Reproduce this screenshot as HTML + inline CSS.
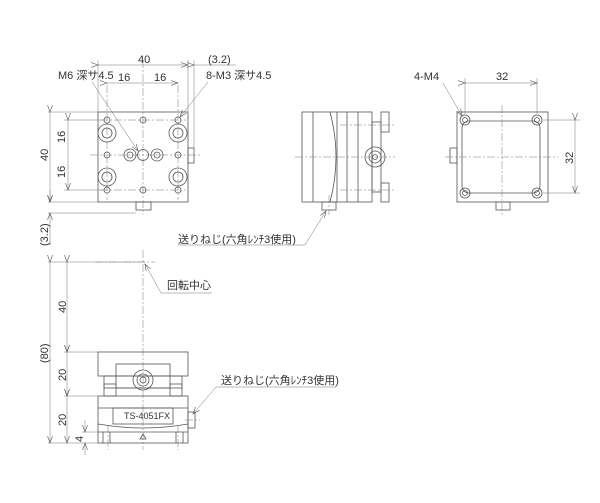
<!DOCTYPE html>
<html><head><meta charset="utf-8"><style>
html,body{margin:0;padding:0;background:#fff;}
svg{display:block;}
text{font-family:"Liberation Sans","Noto Sans CJK JP",sans-serif;fill:#333;font-size:11px;}
.l{stroke:#555;stroke-width:0.8;fill:none;}
.t{stroke:#777;stroke-width:0.5;fill:none;}
.c{stroke:#777;stroke-width:0.5;fill:none;stroke-dasharray:8 2 2 2;}
</style></head><body>
<svg width="600" height="503" viewBox="0 0 600 503" xmlns="http://www.w3.org/2000/svg">
<defs><marker id="a" markerWidth="8" markerHeight="6" refX="7" refY="3" orient="auto" markerUnits="userSpaceOnUse"><path d="M0,0.5 L7,3 L0,5.5" fill="none" stroke="#555" stroke-width="0.6"/></marker></defs>

<!-- TOP VIEW -->
<rect class="l" x="98" y="112" width="90" height="90"/>
<rect class="l" x="136" y="202" width="15" height="8"/>
<rect class="l" x="188" y="148" width="6" height="15"/>
<line class="c" x1="143" y1="60" x2="143" y2="215"/>
<line class="c" x1="90" y1="155" x2="200" y2="155"/>
<line class="c" x1="100" y1="120" x2="186" y2="120"/>
<line class="c" x1="100" y1="190" x2="186" y2="190"/>
<line class="c" x1="107" y1="85" x2="107" y2="200"/>
<line class="c" x1="178" y1="85" x2="178" y2="200"/>
<g class="l">
<circle cx="107" cy="120" r="3"/><circle cx="143" cy="120" r="3"/><circle cx="178" cy="120" r="3"/>
<circle cx="107" cy="155" r="3"/><circle cx="178" cy="155" r="3"/>
<circle cx="107" cy="190" r="3"/><circle cx="143" cy="190" r="3"/><circle cx="178" cy="190" r="3"/>
<circle cx="107" cy="133" r="9"/><circle cx="107" cy="133" r="5"/>
<circle cx="178" cy="133" r="9"/><circle cx="178" cy="133" r="5"/>
<circle cx="107" cy="177" r="9"/><circle cx="107" cy="177" r="5"/>
<circle cx="178" cy="177" r="9"/><circle cx="178" cy="177" r="5"/>
<circle cx="130" cy="155" r="6"/><circle cx="130" cy="155" r="3"/>
<circle cx="157" cy="155" r="6"/><circle cx="157" cy="155" r="3"/>
<circle cx="143" cy="155" r="5.5"/>
</g>
<!-- dims top -->
<line class="t" x1="98" y1="60" x2="98" y2="112"/><line class="t" x1="188" y1="60" x2="188" y2="112"/>
<line class="t" x1="194" y1="60" x2="194" y2="148"/>
<line class="t" x1="98" y1="65" x2="188" y2="65" marker-start="url(#a)" marker-end="url(#a)"/>
<line class="t" x1="107" y1="83" x2="178" y2="83" marker-start="url(#a)" marker-end="url(#a)"/>
<line class="t" x1="194" y1="65" x2="206" y2="65" marker-start="url(#a)"/>
<line class="t" x1="206" y1="65" x2="236" y2="65"/>
<text x="138" y="63">40</text><text x="118" y="81">16</text><text x="154" y="81">16</text>
<text x="208" y="63">(3.2)</text>
<text x="58" y="79">M6 深サ4.5</text>
<text x="206" y="79">8-M3 深サ4.5</text>
<line class="t" x1="92" y1="82" x2="138" y2="151" marker-end="url(#a)"/>
<line class="t" x1="208" y1="82" x2="180" y2="117" marker-end="url(#a)"/>
<line class="t" x1="48" y1="112" x2="98" y2="112"/><line class="t" x1="48" y1="202" x2="98" y2="202"/>
<line class="t" x1="48" y1="213" x2="136" y2="213"/>
<line class="t" x1="64" y1="120" x2="104" y2="120"/><line class="t" x1="64" y1="190" x2="104" y2="190"/>
<line class="t" x1="50" y1="112" x2="50" y2="202" marker-start="url(#a)" marker-end="url(#a)"/>
<line class="t" x1="68" y1="120" x2="68" y2="190" marker-start="url(#a)" marker-end="url(#a)"/>
<line class="t" x1="68" y1="155" x2="68" y2="155"/>
<line class="t" x1="50" y1="190" x2="50" y2="202" marker-end="url(#a)"/>
<line class="t" x1="50" y1="245" x2="50" y2="213" marker-end="url(#a)"/>
<text transform="translate(48,161) rotate(-90)">40</text>
<text transform="translate(65,143) rotate(-90)">16</text>
<text transform="translate(65,178) rotate(-90)">16</text>
<text transform="translate(48,246) rotate(-90)">(3.2)</text>

<!-- SIDE VIEW -->
<g class="l">
<rect x="302" y="112" width="70" height="90"/>
<line x1="313" y1="112" x2="313" y2="202"/>
<line x1="337" y1="112" x2="337" y2="202"/>
<line x1="347" y1="112" x2="347" y2="202"/>
<line x1="358" y1="112" x2="358" y2="202"/>
<path d="M330,112 Q342,157 330,202"/>
<rect x="322" y="202" width="14" height="8"/>
<rect x="372" y="122" width="9" height="70"/>
<rect x="381" y="112" width="8" height="20"/><rect x="381" y="183" width="8" height="19"/>
<circle cx="375" cy="157" r="10"/><circle cx="375" cy="157" r="6"/><circle cx="375" cy="157" r="2.5"/>
</g>
<line class="c" x1="295" y1="157" x2="395" y2="157"/>
<line class="c" x1="340" y1="125" x2="395" y2="125"/>
<line class="c" x1="340" y1="190" x2="395" y2="190"/>
<line class="c" x1="329" y1="195" x2="329" y2="215"/>
<text x="178" y="243">送りねじ(六角ﾚﾝﾁ3使用)</text>
<polyline class="t" points="178,245 305,245 326,211" marker-end="url(#a)"/>

<!-- RIGHT VIEW -->
<g class="l">
<rect x="457" y="112" width="91" height="90"/>
<rect x="462" y="121" width="78" height="72" rx="7"/>
<circle cx="465" cy="120" r="5"/><circle cx="465" cy="120" r="2.5"/>
<circle cx="537" cy="120" r="5"/><circle cx="537" cy="120" r="2.5"/>
<circle cx="465" cy="193" r="5"/><circle cx="465" cy="193" r="2.5"/>
<circle cx="537" cy="193" r="5"/><circle cx="537" cy="193" r="2.5"/>
<rect x="450" y="148" width="7" height="15"/>
<rect x="496" y="202" width="14" height="8"/>
</g>
<line class="c" x1="445" y1="157" x2="558" y2="157"/>
<line class="c" x1="502" y1="105" x2="502" y2="215"/>
<line class="t" x1="465" y1="78" x2="465" y2="114"/><line class="t" x1="537" y1="78" x2="537" y2="114"/>
<line class="t" x1="465" y1="83" x2="537" y2="83" marker-start="url(#a)" marker-end="url(#a)"/>
<line class="t" x1="543" y1="120" x2="580" y2="120"/><line class="t" x1="543" y1="193" x2="580" y2="193"/>
<line class="t" x1="575" y1="120" x2="575" y2="193" marker-start="url(#a)" marker-end="url(#a)"/>
<text x="496" y="80">32</text>
<text transform="translate(573,164) rotate(-90)">32</text>
<text x="414" y="80">4-M4</text>
<line class="t" x1="443" y1="83" x2="462" y2="116" marker-end="url(#a)"/>

<!-- FRONT VIEW -->
<line class="c" x1="143" y1="250" x2="143" y2="450"/>
<line class="c" x1="95" y1="262" x2="155" y2="262"/>
<g class="l">
<rect x="98" y="352" width="90" height="24"/>
<rect x="104" y="376" width="78" height="12"/>
<rect x="116" y="364" width="54" height="24"/>
<rect x="104" y="384" width="12" height="12"/><rect x="170" y="384" width="12" height="12"/>
<rect x="98" y="396" width="90" height="47"/>
<line x1="98" y1="408" x2="188" y2="408"/>
<rect x="113" y="408" width="60" height="16"/>
<path d="M98,424 Q143,432 188,424"/>
<line x1="98" y1="432" x2="188" y2="432"/>
<line x1="103" y1="432" x2="103" y2="443"/><line x1="110" y1="432" x2="110" y2="443"/>
<line x1="176" y1="432" x2="176" y2="443"/><line x1="183" y1="432" x2="183" y2="443"/>
<rect x="188" y="412" width="7" height="16"/>
<circle cx="143" cy="380" r="10"/><circle cx="143" cy="380" r="6"/><circle cx="143" cy="380" r="3"/>
<path d="M140,439 L143,434 L146,439 Z"/>
</g>
<text x="124" y="419" style="font-size:9px">TS-4051FX</text>
<line class="c" x1="108" y1="425" x2="108" y2="450"/>
<line class="c" x1="178" y1="425" x2="178" y2="450"/>
<line class="c" x1="185" y1="420" x2="200" y2="420"/>
<line class="t" x1="48" y1="262" x2="145" y2="262"/>
<line class="t" x1="48" y1="443" x2="98" y2="443"/>
<line class="t" x1="64" y1="352" x2="98" y2="352"/>
<line class="t" x1="64" y1="396" x2="98" y2="396"/>
<line class="t" x1="82" y1="432" x2="98" y2="432"/>
<line class="t" x1="50" y1="262" x2="50" y2="443" marker-start="url(#a)" marker-end="url(#a)"/>
<line class="t" x1="67" y1="262" x2="67" y2="352" marker-start="url(#a)" marker-end="url(#a)"/>
<line class="t" x1="67" y1="352" x2="67" y2="396" marker-start="url(#a)" marker-end="url(#a)"/>
<line class="t" x1="67" y1="396" x2="67" y2="443" marker-start="url(#a)" marker-end="url(#a)"/>
<line class="t" x1="85" y1="420" x2="85" y2="432" marker-end="url(#a)"/>
<line class="t" x1="85" y1="455" x2="85" y2="443" marker-end="url(#a)"/>
<text transform="translate(48,363) rotate(-90)">(80)</text>
<text transform="translate(66,313) rotate(-90)">40</text>
<text transform="translate(66,381) rotate(-90)">20</text>
<text transform="translate(66,426) rotate(-90)">20</text>
<text transform="translate(83,442) rotate(-90)">4</text>
<text x="167" y="289">回転中心</text>
<polyline class="t" points="212,293 161,293 145,264" marker-end="url(#a)"/>
<text x="221" y="384">送りねじ(六角ﾚﾝﾁ3使用)</text>
<polyline class="t" points="336,387 216,387 193,414" marker-end="url(#a)"/>
</svg>
</body></html>
